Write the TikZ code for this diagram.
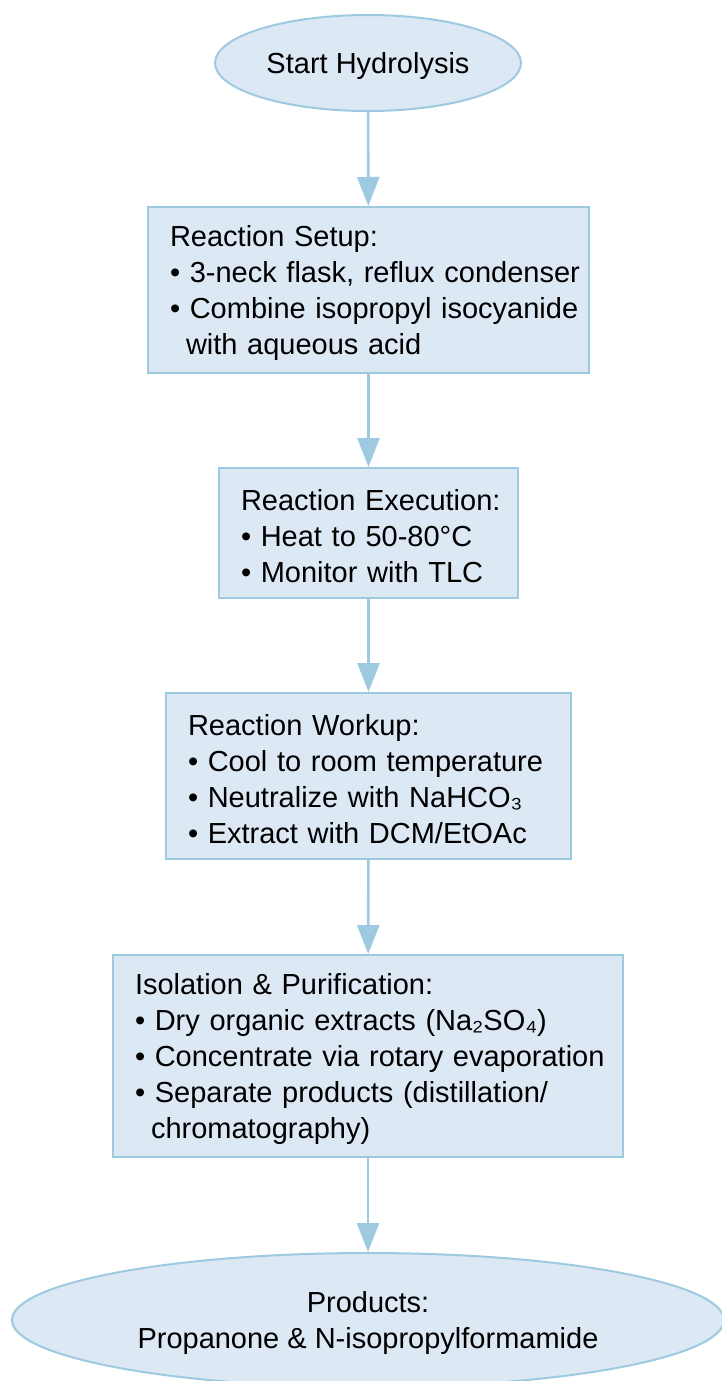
\documentclass[tikz,border=0pt]{standalone}
\usepackage{fontspec}
\setmainfont{Liberation Sans}
\usetikzlibrary{shapes.geometric,arrows.meta}
\definecolor{boxfill}{HTML}{DDE8F5}
\definecolor{boxline}{HTML}{9ECAE1}
\newcommand{\myline}[1]{\mbox{#1}}
\newcommand{\tstrut}{\rule{0pt}{27pt}}
\begin{document}
\begin{tikzpicture}[x=1pt,y=-1pt,
  every node/.style={font=\fontsize{29}{36}\selectfont, text=black},
  stepbox/.style={draw=boxline, fill=boxfill, line width=2pt, rectangle,
     inner xsep=22pt, inner ysep=0pt, align=left},
  oval/.style={draw=boxline, fill=boxfill, line width=2pt, ellipse, inner sep=0pt, align=center},
  arr/.style={draw=boxline, line width=2.6pt, -{Triangle[length=29pt,width=22pt]}}
]
\useasboundingbox (0,0) rectangle (721,1381);
\node[oval, minimum width=306pt, minimum height=96pt] (start) at (368,63) {\tstrut Start Hydrolysis};
\node[stepbox, text width=397pt, minimum height=166pt] (setup) at (368.5,290)
  {\tstrut\myline{Reaction Setup:}\\ \myline{• 3-neck flask, reflux condenser}\\ \myline{• Combine isopropyl isocyanide}\\ \myline{\hspace*{16pt}with aqueous acid}};
\node[stepbox, text width=255pt, minimum height=130pt] (exec) at (368.5,533)
  {\tstrut\myline{Reaction Execution:}\\ \myline{• Heat to 50-80°C}\\ \myline{• Monitor with TLC}};
\node[stepbox, text width=361pt, minimum height=166pt] (workup) at (368.5,776)
  {\tstrut\myline{Reaction Workup:}\\ \myline{• Cool to room temperature}\\ \myline{• Neutralize with NaHCO₃}\\ \myline{• Extract with DCM/EtOAc}};
\node[stepbox, text width=466pt, minimum height=202pt] (iso) at (368,1056)
  {\tstrut\myline{Isolation \& Purification:}\\ \myline{• Dry organic extracts (Na₂SO₄)}\\ \myline{• Concentrate via rotary evaporation}\\ \myline{• Separate products (distillation/}\\ \myline{\hspace*{16pt}chromatography)}};
\node[oval, minimum width=712pt, minimum height=134pt] (prod) at (368,1320)
  {\tstrut Products:\\ Propanone \& N-isopropylformamide};
\draw[arr] (start) -- (setup);
\draw[arr] (setup) -- (exec);
\draw[arr] (exec) -- (workup);
\draw[arr] (workup) -- (iso);
\draw[arr] (iso) -- (prod);
\end{tikzpicture}
\end{document}
